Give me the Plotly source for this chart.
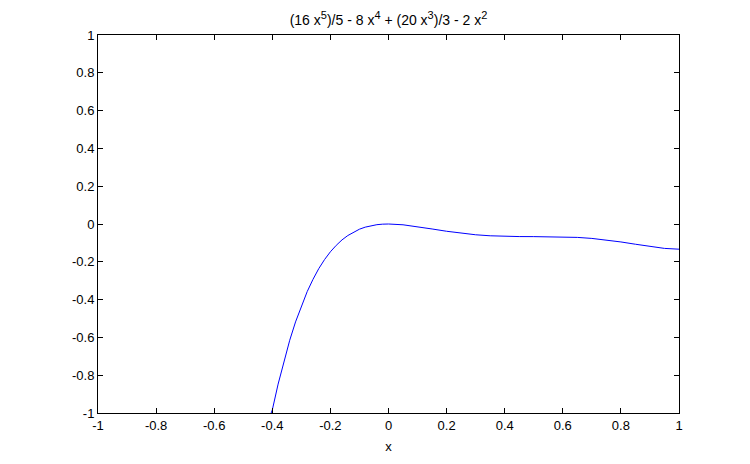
import plotly.graph_objects as go

x_vals = [-0.404, -0.40, -0.38, -0.36, -0.34, -0.32, -0.30, -0.28, -0.26, -0.24, -0.22, -0.20,
          -0.18, -0.16, -0.14, -0.12, -0.10, -0.08, -0.06, -0.04, -0.02, 0.0, 0.05, 0.10,
          0.15, 0.20, 0.25, 0.30, 0.35, 0.40, 0.45, 0.50, 0.55, 0.60, 0.65, 0.70, 0.75,
          0.80, 0.85, 0.90, 0.95, 1.0]
y_vals = [-1.0, -0.984, -0.847, -0.724, -0.615, -0.518, -0.433, -0.358, -0.293, -0.236, -0.188, -0.147,
          -0.113, -0.084, -0.061, -0.042, -0.0275, -0.0166, -0.0087, -0.0036, -0.0009, 0.0, -0.0042, -0.0141,
          -0.0263, -0.0384, -0.0490, -0.0570, -0.0624, -0.0654, -0.0665, -0.0667, -0.0668, -0.0680, -0.0709, -0.0763, -0.0844,
          -0.0949, -0.1070, -0.1192, -0.1291, -0.1333]

x_ticks = [-1, -0.8, -0.6, -0.4, -0.2, 0, 0.2, 0.4, 0.6, 0.8, 1]
x_tick_labels = ["-1", "-0.8", "-0.6", "-0.4", "-0.2", "0", "0.2", "0.4", "0.6", "0.8", "1"]
y_ticks = [-1, -0.8, -0.6, -0.4, -0.2, 0, 0.2, 0.4, 0.6, 0.8, 1]
y_tick_labels = ["-1", "-0.8", "-0.6", "-0.4", "-0.2", "0", "0.2", "0.4", "0.6", "0.8", "1"]

sup = lambda s: "<sup><span style='font-size:11px'>" + s + "</span></sup>"
title_text = "(16 x" + sup("5") + ")/5 - 8 x" + sup("4") + " + (20 x" + sup("3") + ")/3 - 2 x" + sup("2")

FONT = "Liberation Sans, Arial"

fig = go.Figure()
fig.add_trace(go.Scatter(x=x_vals, y=y_vals, mode="lines",
                         line=dict(color="#0000ff", width=1), showlegend=False,
                         hoverinfo="skip"))

axis_common = dict(showgrid=False, zeroline=False, showline=True, linecolor="black",
                   linewidth=1, mirror="ticks", ticks="inside", ticklen=5,
                   tickcolor="black", tickwidth=1,
                   tickfont=dict(family=FONT, size=13, color="black"))

fig.update_layout(
    width=742, height=456,
    paper_bgcolor="white", plot_bgcolor="white",
    margin=dict(l=90, r=71, t=27, b=51),
    title=dict(text=title_text, x=0.5, xref="paper", xanchor="center",
               y=1, yref="paper", yanchor="bottom", pad=dict(b=10),
               font=dict(family=FONT, size=14, color="black")),
    xaxis=dict(range=[-1, 1], tickvals=x_ticks, ticktext=x_tick_labels,
               title=dict(text="x", standoff=10,
                          font=dict(family=FONT, size=13, color="black")),
               **axis_common),
    yaxis=dict(range=[-1, 1], tickvals=y_ticks, ticktext=y_tick_labels, **axis_common),
)

fig.write_html("out.html")
